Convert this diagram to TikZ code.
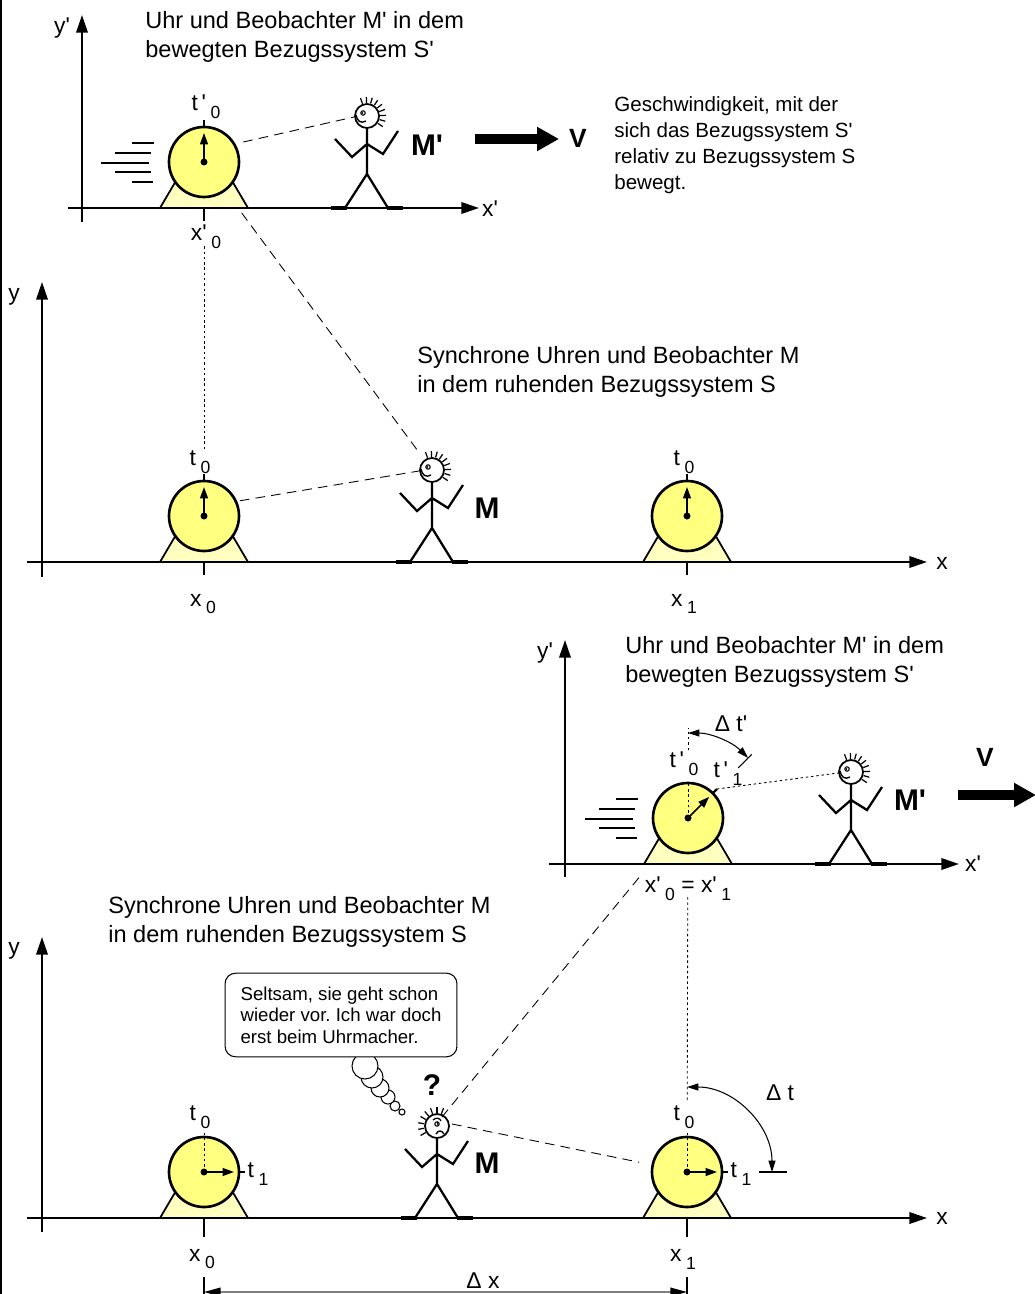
\documentclass[tikz,border=0pt]{standalone}
\usepackage{fontspec}
\setmainfont[Ligatures=TeXOff]{Liberation Sans}
\usetikzlibrary{arrows.meta,calc}
\frenchspacing
\definecolor{dialface}{RGB}{255,255,128}
\definecolor{dialfoot}{RGB}{255,255,192}
\newcommand\lab[2]{#1\kern.2em\raisebox{-4.5pt}{\fontsize{10}{11}\selectfont #2}}
\tikzset{
  axis/.style={line width=1.2pt,-{Triangle[length=10pt,width=6.5pt]}},
  hand/.style={line width=.9pt,-{Triangle[length=6.5pt,width=4.5pt]}},
  gaze/.style={line width=.5pt,dash pattern=on 5.5pt off 3.5pt},
  dotline/.style={line width=.5pt,dash pattern=on 1.4pt off 1.6pt},
  tickline/.style={line width=1.3pt},
  speed/.style={line width=5.6pt,-{Triangle[length=12.5pt,width=13pt]}},
  dimarc/.style={line width=.6pt,{Triangle[length=6.5pt,width=4pt]}-{Triangle[length=6.5pt,width=4pt]}},
  caption/.style={anchor=west,align=left,inner sep=0pt,font=\fontsize{13.4}{16.4}\selectfont},
  lbl/.style={inner sep=1pt,font=\fontsize{13}{15}\selectfont},
  big/.style={inner sep=0pt,font=\fontsize{17}{20}\selectfont\bfseries},
  bubble/.style={draw,fill=white,rounded corners=6pt,line width=.6pt,align=left,inner sep=0pt,
    minimum width=132pt,minimum height=47.6pt,font=\fontsize{10.6}{12.2}\selectfont},
  % clock on its stand, origin at the dial centre
  clock/.pic={
    \filldraw[fill=dialfoot,line width=1pt] (-44,46) -- (-24,12) -- (24,12) -- (44,46) -- cycle;
    \filldraw[fill=dialface,line width=1.5pt] (0,0) circle (35);
    \fill (0,0) circle (3.5);
    \coordinate (-o) at (0,0);},
  rush/.pic={
    \foreach \y/\a/\b in {-19/-72/-50,-9/-89/-53,1/-103/-55,10/-89/-53,20/-72/-51}
      \draw[line width=.9pt] (\a,\y) -- (\b,\y);},
  % stick figure, origin at the head centre
  body/.pic={
    \draw[line width=1.3pt] (0,12) -- (0,58) (-22,92) -- (0,58) -- (21,92)
      (-32,23) -- (-15,41) -- (0,28) -- (16,38) -- (31,15);
    \draw[line width=2.3pt] (-36,92) -- (-20,92) (20,92) -- (36,92);
    \filldraw[fill=white,line width=1pt] (0,0) circle (12);},
  happy/.pic={
    \pic {body};
    \foreach \a in {-110,-92,...,34} \draw[line width=.7pt] (\a:13) -- (\a:19);
    \draw[line width=.6pt] (-4,-3) circle (2.2);
    \fill (-4.6,-3) circle (1);
    \draw[line width=.8pt] (-11,-1) .. controls (-10,5) and (-6,8) .. (-1,5);
    \coordinate (-h) at (0,0);
    \coordinate (-eye) at (-13,1);},
  puzzled/.pic={
    \pic {body};
    \foreach \a in {-70,-90,...,-210} \draw[line width=.7pt] (\a:13) -- (\a:19);
    \draw[line width=.6pt] (0,-2) circle (2.2);
    \fill (.6,-2) circle (1);
    \draw[line width=.7pt] (-4,-6) .. controls (-1,-9) and (3,-8) .. (4,-5);
    \draw[line width=.8pt] (-1,8) .. controls (1,4) and (5,4) .. (7,8);
    \coordinate (-h) at (0,0);
    \coordinate (-eye) at (0,-3);
    \coordinate (-rim) at (15,-2);}
}
\begin{document}
\begin{tikzpicture}[x=0.02cm,y=-0.02cm]
\useasboundingbox (0,0) rectangle (1034,1294);
\draw[line width=.8pt] (1,0) -- (1,1294);

% moving frame S' above
\draw[axis] (82,222) -- (82,15); \draw[axis] (68,208) -- (479,208);
\node[lbl] (ya) at (62,28) {y'}; \node[lbl] (xa) at (490,209) {x'};
\node[caption] (capa) at (145,37) {Uhr und Beobachter M' in dem\\bewegten Bezugssystem S'};
\pic (ra) at (204,162) {rush};
\pic (ca) at (204,162) {clock};
\draw[hand] (ca-o) -- ++(0,-29);
\draw[tickline] (ca-o) ++(0,-35) -- ++(0,-7);
\draw[tickline] (204,208) -- ++(0,13);
\node[lbl] (ta) at (206,107) {\lab{t\,'}{0}};
\node[lbl] (xpa) at (206,237) {\lab{x'}{0}};
\pic (ma) at (367,116) {happy};
\draw[gaze] (ca-o) ++(-27:44) -- (ma-eye);
\node[big] (na) at (427,145) {M'};
\draw[speed] (475,139) -- (559,139);
\node[big,font=\fontsize{15}{18}\selectfont\bfseries] (va) at (578,138) {V};
\node[anchor=west,align=left,inner sep=0pt,font=\fontsize{11.7}{14.9}\selectfont] (vtext) at (614,145)
  {Geschwindigkeit, mit der\\sich das Bezugssystem S'\\relativ zu Bezugssystem S\\bewegt.};

% rest frame S
\draw[axis] (42,577) -- (42,282); \draw[axis] (27,562) -- (927,562);
\node[lbl] (yb) at (14,297) {y}; \node[lbl] (xb) at (942,563) {x};
\node[caption] (capb) at (417,372) {Synchrone Uhren und Beobachter M\\in dem ruhenden Bezugssystem S};
\pic (cb) at (204,516) {clock};
\pic (cc) at (687,516) {clock};
\draw[hand] (cb-o) -- ++(0,-29); \draw[hand] (cc-o) -- ++(0,-29);
\draw[tickline] (cb-o) ++(0,-35) -- ++(0,-7); \draw[tickline] (cc-o) ++(0,-35) -- ++(0,-7);
\draw[tickline] (204,562) -- ++(0,13); \draw[tickline] (687,562) -- ++(0,13);
\node[lbl] (tb) at (200,462) {\lab{t}{0}}; \node[lbl] (tc) at (684,462) {\lab{t}{0}};
\node[lbl] (xb0) at (203,604) {\lab{x}{0}}; \node[lbl] (xb1) at (684,604) {\lab{x}{1}};
\pic (mb) at (432,470) {happy};
\draw[gaze] (cb-o) ++(-23:39) -- (mb-eye);
\node[big] (nb) at (487,508) {M};
\draw[dotline,shorten <=48pt,shorten >=38pt] (ca-o) -- (cb-o);
\draw[gaze,shorten <=36pt,shorten >=12pt] (ca-o) -- (mb-h);

% moving frame S' later
\draw[axis] (565,877) -- (565,640); \draw[axis] (549,864) -- (959,864);
\node[lbl] (yc) at (545,653) {y'}; \node[lbl] (xc) at (973,864) {x'};
\node[caption] (capc) at (625,662) {Uhr und Beobachter M' in dem\\bewegten Bezugssystem S'};
\pic (rc) at (688,818) {rush};
\pic (cd) at (688,818) {clock};
\draw[dotline] (cd-o) -- ++(0,-35);
\draw[dotline] (cd-o) ++(0,-68) -- ++(0,-22);
\draw[hand] (cd-o) -- ++(-45:30);
\draw[tickline] (cd-o) ++(-45:35) -- ++(-45:6);
\draw[dimarc] (cd-o) ++(-90:85) arc[start angle=-90,end angle=-45,radius=85];
\draw[line width=.6pt] (cd-o) ++(-45:71) -- ++(-45:19);
\node[lbl] (td) at (684,764) {\lab{t\,'}{0}};
\node[lbl] (te) at (728,774) {\lab{t\,'}{1}};
\node[lbl] (dtp) at (731,724) {Δ t'};
\node[lbl,fill=white] (xpd) at (688,889) {\lab{x'}{0} = \lab{x'}{1}};
\pic (mc) at (851,772) {happy};
\draw[dotline] (cd-o) ++(-45:41) -- (mc-eye);
\node[big] (nc) at (910,800) {M'};
\draw[speed] (958,795) -- (1036,795);
\node[big,font=\fontsize{15}{18}\selectfont\bfseries] (vc) at (985,757) {V};

% rest frame S later
\draw[axis] (42,1232) -- (42,937); \draw[axis] (27,1218) -- (927,1218);
\node[lbl] (yd) at (14,951) {y}; \node[lbl] (xd) at (942,1218) {x};
\node[caption] (capd) at (108,922) {Synchrone Uhren und Beobachter M\\in dem ruhenden Bezugssystem S};
\pic (ce) at (204,1172) {clock};
\pic (cf) at (687,1172) {clock};
\foreach \c in {ce,cf}{
  \draw[dotline] (\c-o) -- ++(0,-42);
  \draw[hand] (\c-o) -- ++(30,0);
  \draw[tickline] (\c-o) ++(35,0) -- ++(6,0);}
\draw[tickline] (204,1218) -- ++(0,19); \draw[tickline] (687,1218) -- ++(0,19);
\node[lbl] (tf) at (200,1117) {\lab{t}{0}}; \node[lbl] (tg) at (684,1117) {\lab{t}{0}};
\node[lbl] (tf1) at (258,1174) {\lab{t}{1}}; \node[lbl] (tg1) at (741,1174) {\lab{t}{1}};
\node[lbl] (xd0) at (202,1259) {\lab{x}{0}}; \node[lbl] (xd1) at (683,1259) {\lab{x}{1}};
\draw[dotline,shorten <=45pt,shorten >=41pt] (cd-o) -- (cf-o);
\draw[dimarc] (cf-o) ++(-90:85) arc[start angle=-90,end angle=0,radius=85];
\draw[line width=.6pt] (cf-o) ++(72,0) -- ++(28,0);
\node[lbl] (dt) at (780,1093) {Δ t};
\pic (md) at (437,1126) {puzzled};
\draw[gaze,shorten <=44pt] (cd-o) -- (md-eye);
\draw[gaze,shorten >=27.8pt] (md-rim) -- (cf-o);
\node[big] (nd) at (487,1163) {M};
\node[big] (qd) at (432,1085) {?};
\foreach \x/\y/\r in {402/1112/3,395/1106/5,388/1097/7,380/1088/9,372/1077/11,365/1066/13}
  \filldraw[fill=white,line width=.6pt] (\x,\y) circle (\r);
\node[bubble] (say) at (341,1015) {Seltsam, sie geht schon\\wieder vor. Ich war doch\\erst beim Uhrmacher.};

% distance of the two clocks
\coordinate (dxa) at (204,1292); \coordinate (dxb) at (687,1292);
\draw[line width=.6pt] (204,1277) -- (204,1294) (687,1277) -- (687,1294);
\draw[gray,line width=.8pt,{Triangle[black,length=9.5pt,width=5pt]}-{Triangle[black,length=9.5pt,width=5pt]}] (dxa) -- (dxb);
\node[lbl] (dx) at (483,1281) {Δ x};
\end{tikzpicture}
\end{document}
